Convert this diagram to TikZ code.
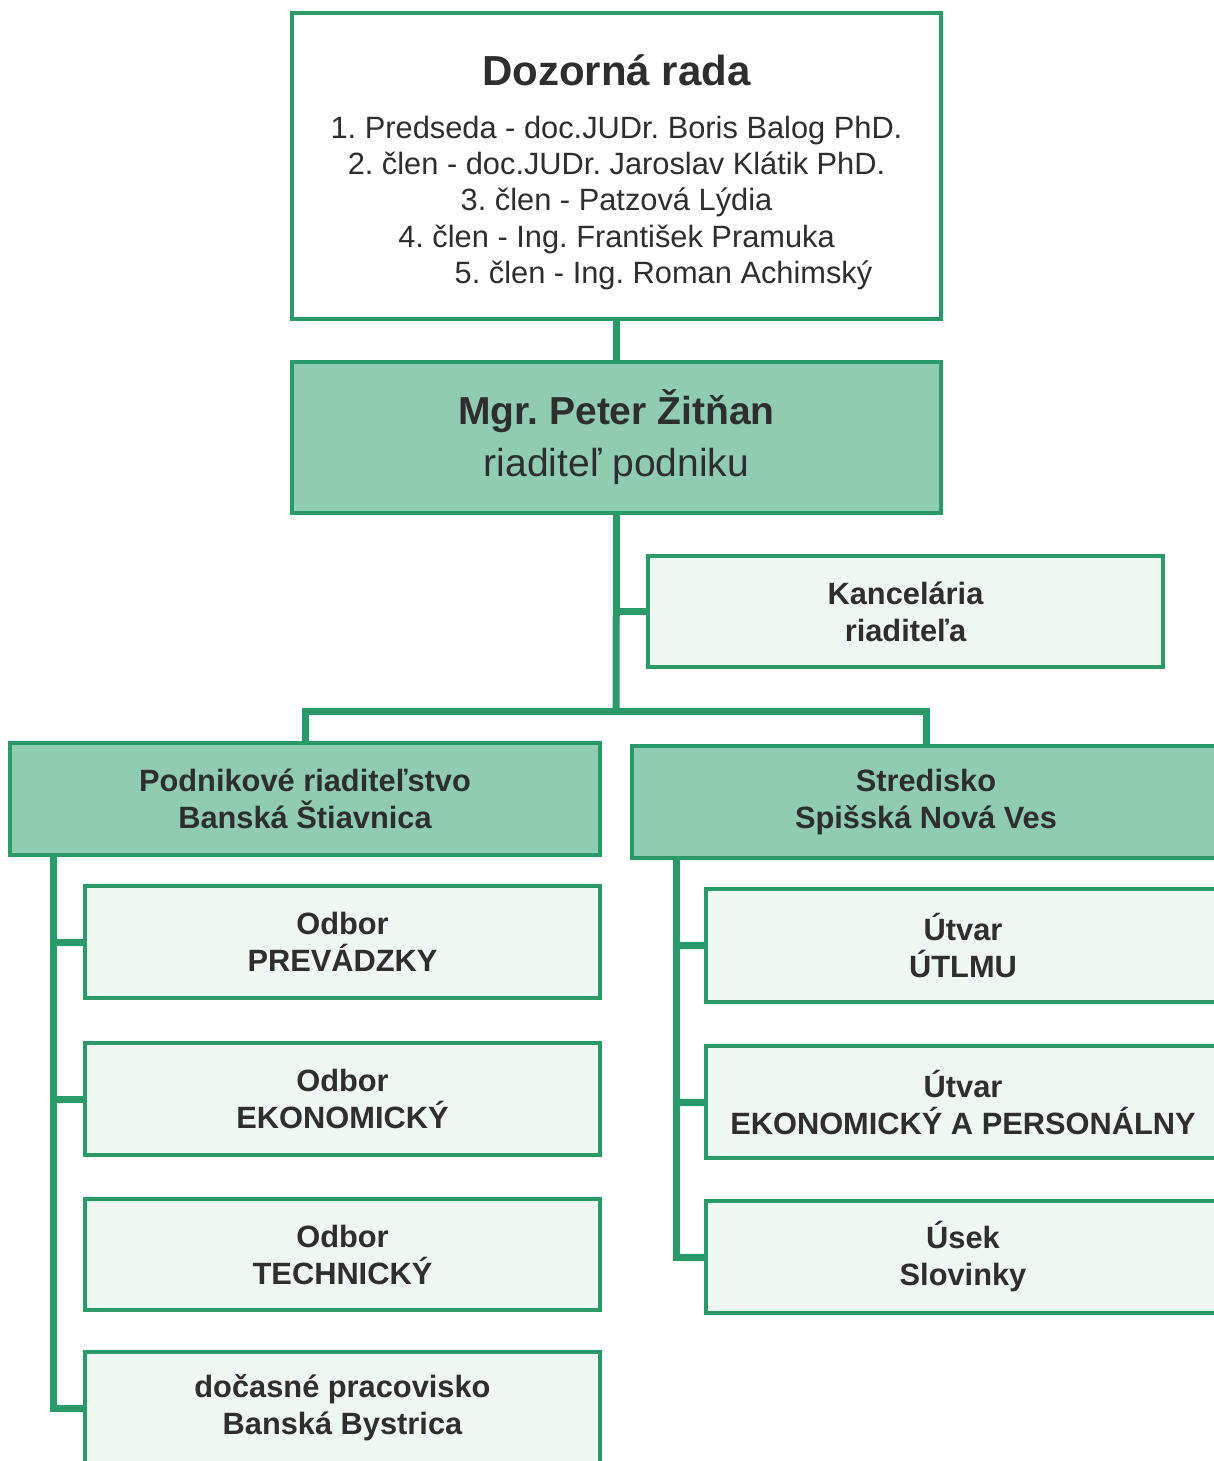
\documentclass[tikz,border=0pt]{standalone}
\usepackage{fontspec}
\setmainfont{Liberation Sans}
\frenchspacing
\definecolor{grn}{HTML}{2B9A69}
\definecolor{mint}{HTML}{8FCCB1}
\definecolor{pale}{HTML}{EEF7F2}
\definecolor{ink}{HTML}{2E2E2E}
\begin{document}
\begin{tikzpicture}[x=0.5pt,y=-0.5pt,
 box/.style={draw=grn, line width=2pt, inner sep=0pt, align=center, text=ink,
   font=\fontsize{15.4}{18.5}\selectfont\bfseries},
 mainbox/.style={box, fill=mint},
 subbox/.style={box, fill=pale},
 plain/.style={inner sep=0pt, align=center, text=ink},
 conn/.style={draw=grn, line width=3.5pt, line join=miter}]
\useasboundingbox (0,0) rectangle (1214,1461);
\clip (0,0) rectangle (1214,1461);
\fill[white] (0,0) rectangle (1214,1461);

% boxes
\node[box, fill=white, minimum width=324.5pt, minimum height=153pt] (dozor) at (616.5,166) {};
\node[plain, font=\fontsize{21}{25}\selectfont\bfseries] (dtitle) at (616.5,70) {Dozorná rada};
\node[plain, font=\fontsize{15.4}{18.2}\selectfont] (dlist) at (616.5,203)
 {1. Predseda - doc.JUDr. Boris Balog PhD.\\
  2. člen - doc.JUDr. Jaroslav Klátik PhD.\\
  3. člen - Patzová Lýdia\\
  4. člen - Ing. František Pramuka\\
  \hspace*{47pt}5. člen - Ing. Roman Achimský};

\node[mainbox, minimum width=324.5pt, minimum height=75.5pt,
  font=\fontsize{19.5}{26}\selectfont] (dir) at (616.5,437.5)
 {\textbf{Mgr. Peter Žitňan}\\riaditeľ podniku};

\node[subbox, minimum width=257.5pt, minimum height=55.5pt] (kanc) at (905.5,611.5) {Kancelária\\riaditeľa};

\node[mainbox, minimum width=295pt, minimum height=56pt] (pr) at (305,799) {Podnikové riaditeľstvo\\Banská Štiavnica};
\node[mainbox, minimum width=294pt, minimum height=56pt] (sr) at (926,802) {Stredisko\\Spišská Nová Ves};

\node[subbox, minimum width=257.5pt, minimum height=56pt] (l1) at (342.5,942) {Odbor\\PREVÁDZKY};
\node[subbox, minimum width=257.5pt, minimum height=56pt] (l2) at (342.5,1099) {Odbor\\EKONOMICKÝ};
\node[subbox, minimum width=257.5pt, minimum height=55.5pt] (l3) at (342.5,1254.5) {Odbor\\TECHNICKÝ};
\node[subbox, minimum width=257.5pt, minimum height=56pt] (l4) at (342.5,1408) {dočasné pracovisko\\Banská Bystrica};

\node[subbox, minimum width=257pt, minimum height=56.5pt] (r1) at (963,945.5) {Útvar\\ÚTLMU};
\node[subbox, minimum width=257pt, minimum height=56pt] (r2) at (963,1102) {Útvar\\EKONOMICKÝ A PERSONÁLNY};
\node[subbox, minimum width=257pt, minimum height=56pt] (r3) at (963,1257) {Úsek\\Slovinky};

% connectors
\coordinate (hub) at (616,711);
\coordinate (ltop) at (53,855);
\coordinate (rtop) at (676,858);
\draw[conn] (dozor.south) -- (dir.north);
\draw[conn] (dir.south) -- (hub);
\draw[conn] (pr.north) |- (hub) -| (sr.north);
\draw[conn] (kanc.west) -- (kanc.west -| hub);
\draw[conn] (ltop) |- (l4.west);
\draw[conn] (l1.west) -- (l1.west -| ltop);
\draw[conn] (l2.west) -- (l2.west -| ltop);
\draw[conn] (rtop) |- (r3.west);
\draw[conn] (r1.west) -- (r1.west -| rtop);
\draw[conn] (r2.west) -- (r2.west -| rtop);
\end{tikzpicture}
\end{document}
